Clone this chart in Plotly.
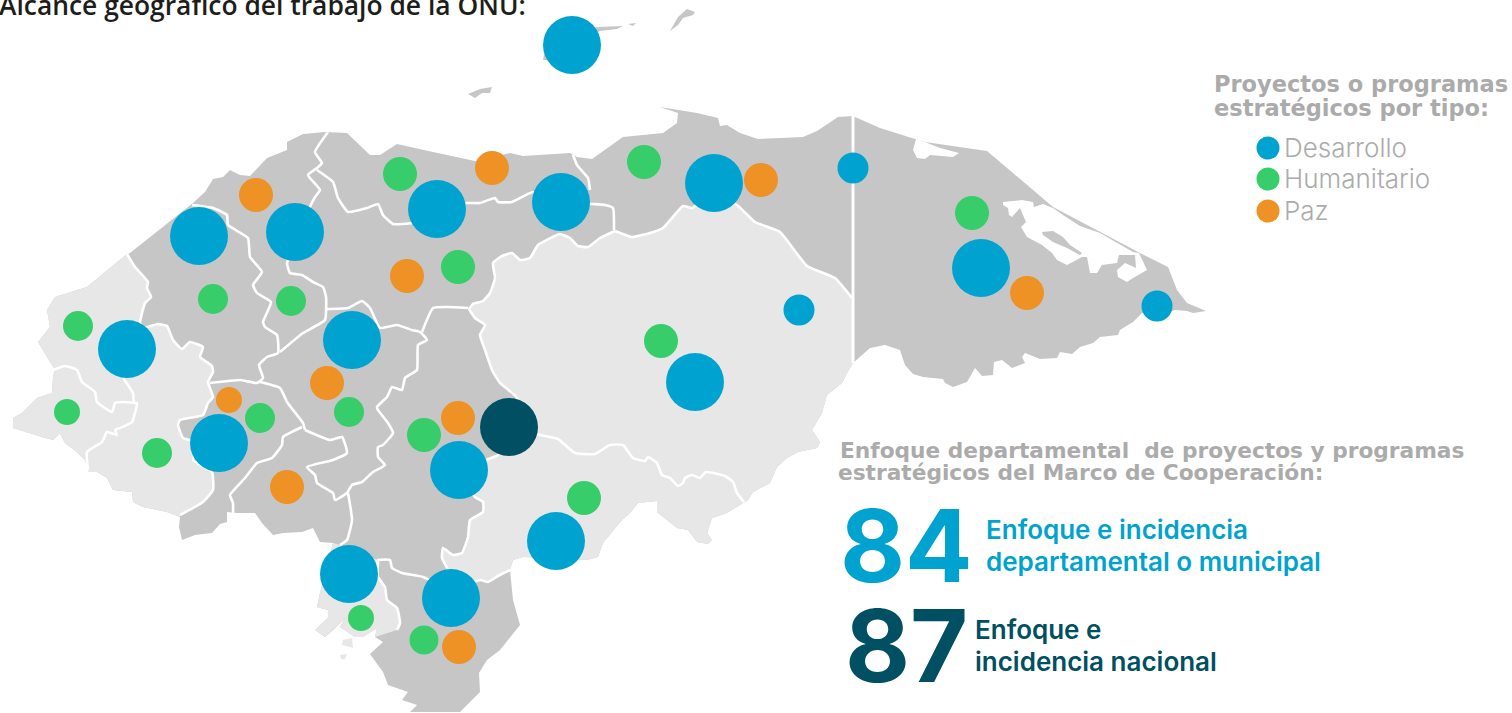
import plotly.graph_objects as go

# ---------- map outline (x, y in picture units) ----------
coast_north = [(127,254),(130,253),(193,203),(205,192),(213,179),(223,177),(230,170),(240,175),(250,176),(267,158),(287,150),(287,142),(303,134),(325,132),(347,133),(370,155),(380,155),(397,144),(433,152),(475,161),(510,153),(523,156),(570,153),(577,157),(592,159),(615,143),(623,137),(663,133),(677,123),(678,113),(660,107),(697,113),(718,118),(720,126),(727,125),(740,133),(758,139),(803,137),(817,131),(838,117),(853,116)]
coast_moskitia = [(855,117),(880,128),(915,139),(925,142),(987,151),(1053,207),(1140,253),(1168,267),(1177,290),(1187,303),(1206,311),(1193,313),(1187,311),(1175,310),(1160,315),(1142,313),(1133,322),(1120,330),(1118,335),(1100,337),(1093,343),(1080,347),(1072,354),(1060,352),(1057,358),(1040,359),(1025,353),(1022,357),(1025,363),(1012,368),(1002,360),(994,362),(993,375),(982,376),(975,368),(967,382),(953,387),(945,383),(943,379),(923,377),(913,374),(905,365),(900,350),(885,345),(870,348),(853,363)]
coast_olancho_paraiso = [(853,363),(847,373),(842,383),(827,395),(822,413),(812,430),(820,442),(817,448),(798,452),(787,458),(777,467),(770,483),(753,492),(748,500),(727,513),(712,518),(707,533),(712,540),(708,544),(697,542),(688,530),(677,528),(657,512),(657,501),(638,503),(630,513),(622,520),(603,543),(598,557),(587,560),(523,557),(513,560),(510,570)]
coast_choluteca = [(510,570),(513,600),(520,625),(500,650),(487,660),(479,673),(480,692),(472,700),(460,712),(410,712),(417,705),(402,700),(408,692),(388,685),(383,672),(370,654),(383,642)]
coast_valle = [(383,642),(375,637),(377,628),(363,637),(355,637),(340,627),(345,618),(333,630),(325,637),(315,630),(328,618),(328,610),(317,607),(320,593),(333,543)]
coast_south = [(333,543),(320,542),(313,528),(302,532),(290,533),(283,533),(273,535),(262,523),(255,513),(237,513),(227,512),(227,522),(220,524),(212,533),(203,534),(195,535),(182,540),(179,527),(180,517)]
coast_west = [(180,517),(167,512),(143,507),(133,502),(132,492),(113,490),(107,478),(97,472),(89,472),(85,460),(78,453),(65,443),(60,433),(53,440),(42,437),(13,428),(13,418),(22,413),(37,398),(52,393),(53,377),(55,370),(52,365),(43,350),(38,342),(50,327),(47,310),(55,297),(87,287),(127,254)]

# ---------- internal borders ----------
border_west = [(127,254),(135,267),(148,282),(147,288),(151,297),(145,303),(140,323),(143,328),(147,327),(158,324),(167,326),(173,340),(182,349),(190,342),(203,347),(200,357),(212,366),(213,372),(208,382),(213,397),(208,403),(203,415),(180,420),(178,425),(183,438),(190,440),(200,445),(193,460),(212,472),(213,490),(203,502),(180,515)]
border_ocotepeque = [(53,370),(65,366),(77,370),(82,382),(95,392),(97,402),(112,412),(115,403),(123,402),(136,403)]
border_copan = [(123,378),(133,393),(134,403),(137,403),(132,422),(120,428),(115,430),(117,435),(107,432),(102,442),(87,452),(88,470)]
border_santabarbara = [(192,205),(213,208),(227,215),(228,225),(248,238),(250,257),(262,272),(253,285),(257,293),(271,302),(263,322),(265,327),(277,335),(278,353),(267,357),(259,365),(263,378),(257,383),(240,380),(210,383)]
border_cortes = [(328,132),(315,152),(322,163),(317,168),(308,175),(320,190),(315,197),(310,207),(300,240),(287,263),(290,273),(302,275),(313,282),(323,287),(326,297),(325,320),(303,333),(280,352)]
border_comayagua = [(325,309),(348,308),(362,301),(370,308),(380,328),(397,325),(412,330),(420,332),(427,340),(418,345),(417,370),(405,378),(402,390),(392,387),(387,397),(377,407),(378,410),(388,423),(393,433),(383,445),(378,447),(378,457),(385,465),(373,472),(362,482),(352,485),(347,493),(335,500),(333,493),(317,483),(315,475),(307,467),(333,460),(347,453),(342,437),(330,440),(305,430)]
border_fm_valle = [(348,493),(352,520),(347,540),(340,545)]
border_intibuca = [(260,382),(280,388),(287,402),(293,410),(303,423),(305,430)]
border_lempira = [(302,427),(283,437),(282,445),(272,458),(257,463),(245,478),(230,495),(233,503),(233,513)]
border_atlantida = [(317,170),(333,182),(338,198),(348,212),(367,208),(378,204),(383,215),(393,224),(412,223),(437,210),(467,203),(480,203),(495,198),(498,202),(512,202),(533,192),(560,202),(592,204),(605,205),(613,208),(614,230)]
border_colon = [(573,155),(577,165),(588,178),(590,190)]
border_olancho_n = [(615,231),(632,237),(650,233),(663,228),(683,206),(692,208),(714,195),(737,205),(755,222),(780,232),(807,266),(835,278),(852,298)]
border_yoro_s = [(469,309),(473,304),(483,301),(490,293),(495,278),(493,263),(502,256),(512,253),(520,260),(530,258),(538,245),(560,234),(570,238),(578,246),(588,247),(600,238),(615,231)]
border_yoro_w = [(422,332),(433,308),(447,307),(468,308)]
border_gracias = [(853,116),(853,363)]
border_fm_olancho = [(469,309),(475,318),(485,325),(480,335),(485,350),(492,370),(500,383),(517,398),(510,427),(540,435),(558,439),(575,453),(595,454),(610,445),(623,445),(633,458),(645,461),(648,457),(657,463),(662,475),(670,478),(678,486),(683,483),(685,478),(692,475),(700,478),(706,472),(725,476),(733,482),(737,493),(744,502)]
border_fm_paraiso = [(510,570),(498,576),(488,582),(480,580),(451,590),(447,568),(442,558),(443,548),(453,555),(462,553),(468,537),(470,520),(483,512),(483,502),(475,497),(460,470),(498,455),(510,427),(517,398)]
border_choluteca_n = [(377,560),(390,560),(392,568),(402,573),(423,577),(451,590)]
border_choluteca_w = [(378,560),(378,577),(385,587),(387,600),(397,608),(400,623),(397,630)]

# ---------- water bodies and islands ----------
laguna_brus = [(916,139),(913,150),(917,158),(925,159),(930,155),(953,157),(959,153),(940,148),(925,142)]
laguna_caratasca = [(1003,202),(1022,200),(1033,202),(1034,207),(1043,204),(1053,208),(1063,215),(1080,226),(1100,233),(1133,252),(1139,253),(1147,270),(1133,278),(1127,282),(1118,277),(1117,270),(1125,263),(1136,268),(1135,255),(1119,255),(1117,263),(1102,265),(1097,273),(1090,273),(1087,257),(1082,257),(1067,265),(1057,260),(1052,253),(1042,245),(1027,237),(1021,227),(1026,222),(1020,208),(1012,217),(1009,215),(1008,208),(1003,205)]
isla_laguna = [(1042,232),(1053,231),(1063,237),(1070,245),(1082,253),(1080,255),(1067,248),(1053,242),(1043,235)]
isla_roatan = [(543,60),(545,50),(597,27),(623,26),(617,29),(600,31),(550,60)]
isla_cayo = [(628,24),(636,23),(633,26)]
isla_guanaja = [(670,31),(678,17),(687,9),(695,12),(693,15),(683,18),(678,25)]
isla_utila = [(468,94),(480,89),(492,87),(490,93),(482,93),(475,98)]
isla_valle_a = [(343,640),(352,638),(353,648),(342,645)]
isla_valle_b = [(340,655),(347,654),(345,659),(341,659)]

# ---------- bubbles ----------
desarrollo_x = [572,199,295,437,561,714,981,127,352,219,459,695,556,349,451,853,799,1157]
desarrollo_y = [45,236,232,209,202,183,268,349,340,443,470,382,541,574,598,168,310,306]
desarrollo_d = [58,58,58,58,58,58,58,58,58,58,58,58,58,58,58,31,31,31]
humanitario_x = [400,458,644,661,972,424,584,78,213,291,260,349,157,424,67,361]
humanitario_y = [174,267,162,341,213,435,498,326,299,301,418,412,453,640,412,618]
humanitario_d = [34,34,34,34,34,34,34,30,30,30,30,30,30,29,26,26]
paz_x = [256,407,492,327,761,1027,458,287,459,229]
paz_y = [195,276,168,383,180,293,418,487,647,400]
paz_d = [34,34,34,34,34,34,34,34,34,26]
nacional_x = [509]
nacional_y = [427]
nacional_d = [58]

legend_labels = ["Desarrollo", "Humanitario", "Paz"]
legend_y = [148, 179, 211]

BLUE, GREEN, ORANGE, DARK = "#00a3cf", "#36cd6a", "#ee9225", "#004f62"
GRAY, LIGHT, HEAD = "#c6c6c6", "#e7e7e7", "#ababab"

fig = go.Figure()

def poly(pts, color):
    fig.add_trace(go.Scatter(x=[p[0] for p in pts], y=[p[1] for p in pts], mode="lines",
                             fill="toself", fillcolor=color, line=dict(width=0, color=color),
                             hoverinfo="skip", showlegend=False))

def line(pts, width=2.6):
    fig.add_trace(go.Scatter(x=[p[0] for p in pts], y=[p[1] for p in pts], mode="lines",
                             line=dict(width=width, color="white", shape="spline", smoothing=0.4),
                             hoverinfo="skip", showlegend=False))

poly(coast_north + coast_moskitia + coast_olancho_paraiso + coast_choluteca + coast_valle + coast_south + coast_west, GRAY)
for isl in (isla_roatan, isla_cayo, isla_guanaja, isla_utila):
    poly(isl, GRAY)
poly(border_west + coast_west, LIGHT)
poly(border_yoro_s + border_olancho_n + [(853,298)] + coast_olancho_paraiso + border_fm_paraiso[1:] + border_fm_olancho[:8][::-1], LIGHT)
poly(border_choluteca_w + coast_valle[1:] + [(340,545)], LIGHT)
poly(isla_valle_a, LIGHT)
poly(isla_valle_b, LIGHT)
poly(laguna_brus, "white")
poly(laguna_caratasca, "white")
poly(isla_laguna, GRAY)

for b in (border_ocotepeque, border_copan, border_west, border_santabarbara, border_cortes, border_comayagua,
          border_fm_valle, border_intibuca, border_lempira, border_atlantida, border_colon, border_olancho_n,
          border_yoro_s, border_yoro_w, border_fm_olancho, border_fm_paraiso,
          border_choluteca_n, border_choluteca_w):
    line(b)
line(border_gracias, 3)

def bubbles(name, x, y, d, color):
    fig.add_trace(go.Scatter(x=x, y=y, mode="markers", name=name,
                             marker=dict(size=d, color=color, opacity=1, line=dict(width=0)),
                             showlegend=False))

bubbles("Desarrollo", desarrollo_x, desarrollo_y, desarrollo_d, BLUE)
bubbles("Humanitario", humanitario_x, humanitario_y, humanitario_d, GREEN)
bubbles("Paz", paz_x, paz_y, paz_d, ORANGE)
bubbles("Nacional", nacional_x, nacional_y, nacional_d, DARK)
fig.add_trace(go.Scatter(x=[1268,1268,1268], y=legend_y, mode="markers",
                         marker=dict(size=23, color=[BLUE, GREEN, ORANGE], opacity=1, line=dict(width=0)),
                         hoverinfo="skip", showlegend=False))

def label(x, y, text, size, color, weight=400, family="Inter", xshift=0):
    fig.add_annotation(x=x, y=y, text=text, showarrow=False, xanchor="left", yanchor="middle",
                       xshift=xshift, borderpad=0, font=dict(family=family, size=size, color=color, weight=weight))

HEADFONT = "DejaVu Sans"
label(0, 5, "Alcance geográfico del trabajo de la ONU:", 26.4, "#1d1d1b", 600, "Open Sans", xshift=-2)
label(1213, 84, "Proyectos o programas", 22.5, HEAD, 700, HEADFONT)
label(1213, 108, "estratégicos por tipo:", 22.5, HEAD, 700, HEADFONT)
for t, yy in zip(legend_labels, legend_y):
    label(1283, yy - 1, t, 26, HEAD, 300)
label(839, 450, "Enfoque departamental  de proyectos y programas", 21.7, HEAD, 700, HEADFONT)
label(837, 472, "estratégicos del Marco de Cooperación:", 21.7, HEAD, 700, HEADFONT)
label(839, 545, "84", 100, BLUE, 700)
label(844, 645, "87", 100, DARK, 700)
label(985, 529, "Enfoque e incidencia", 26, BLUE, 600)
label(985, 561, "departamental o municipal", 26, BLUE, 600)
label(974, 629, "Enfoque e", 26, DARK, 600)
label(974, 661, "incidencia nacional", 26, DARK, 600)

fig.update_xaxes(range=[0,1512], visible=False, fixedrange=True)
fig.update_yaxes(range=[713,0], visible=False, fixedrange=True)
fig.update_layout(width=1512, height=713, margin=dict(l=0,r=0,t=0,b=0),
                  paper_bgcolor="white", plot_bgcolor="white", showlegend=False)
fig.write_html("out.html", config=dict(displayModeBar=False),
               post_script="document.body.style.margin='0';document.documentElement.style.overflow='hidden';")
